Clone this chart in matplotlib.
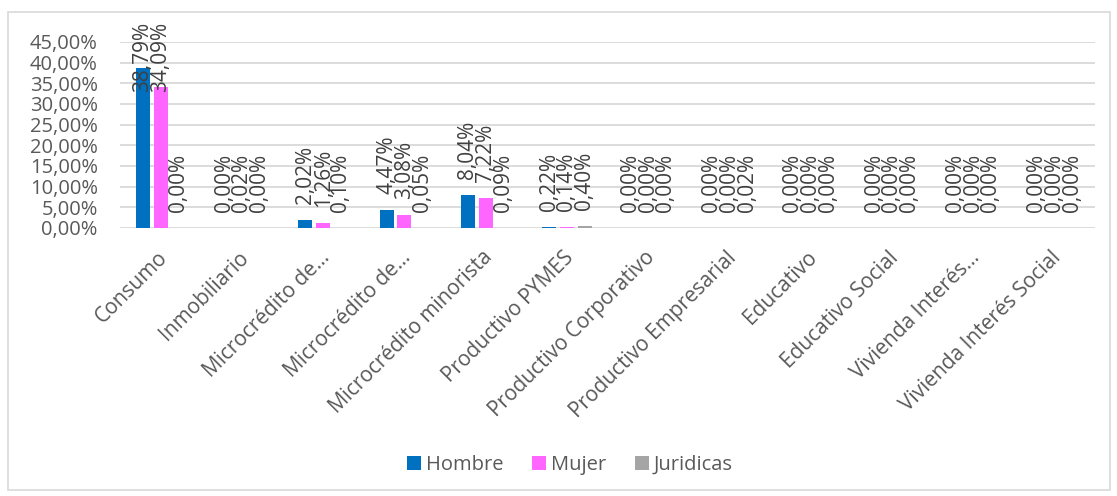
import matplotlib
matplotlib.use("Agg")
import matplotlib.pyplot as plt
from matplotlib.patches import Rectangle
from matplotlib.transforms import ScaledTranslation
import numpy as np

categories = ["Consumo", "Inmobiliario", "Microcrédito de...", "Microcrédito de...",
              "Microcrédito minorista", "Productivo PYMES", "Productivo Corporativo",
              "Productivo Empresarial", "Educativo", "Educativo Social",
              "Vivienda Interés...", "Vivienda Interés Social"]
hombre = [38.79, 0.00, 2.02, 4.47, 8.04, 0.22, 0.00, 0.00, 0.00, 0.00, 0.00, 0.00]
mujer = [34.09, 0.02, 1.26, 3.08, 7.22, 0.14, 0.00, 0.00, 0.00, 0.00, 0.00, 0.00]
juridicas = [0.00, 0.00, 0.10, 0.05, 0.09, 0.40, 0.00, 0.02, 0.00, 0.00, 0.00, 0.00]
series_names = ["Hombre", "Mujer", "Juridicas"]
colors = ["#0070C0", "#FF66FF", "#A5A5A5"]
yticks = [0, 5, 10, 15, 20, 25, 30, 35, 40, 45]

plt.rcParams['font.family'] = ['Open Sans', 'DejaVu Sans']

W, H = 1117, 496
fig = plt.figure(figsize=(W / 100, H / 100), dpi=100)
ax = fig.add_axes([120 / W, 1 - 228 / H, (1095 - 120) / W, (228 - 42) / H])

# chart border
fig.patches.append(Rectangle((8 / W, 1 - 490 / H), (1110 - 8) / W, (490 - 12) / H,
                             transform=fig.transFigure, fill=False,
                             edgecolor="#D9D9D9", linewidth=1.2))

x = np.arange(len(categories))
bw = 0.172
step = 0.218
for i, (vals, name, c) in enumerate(zip([hombre, mujer, juridicas], series_names, colors)):
    xs = x + (i - 1) * step
    ax.bar(xs, vals, width=bw, color=c, label=name, zorder=3)
    for xi, v in zip(xs, vals):
        lab = f"{v:.2f}".replace(".", ",") + "%"
        if v > 25:
            ax.annotate(lab, xy=(xi, 1.0), xycoords=("data", "axes fraction"),
                        xytext=(0, 14.5), textcoords="offset points",
                        rotation=90, ha="center", va="top",
                        fontsize=15, color="#404040", annotation_clip=False)
        else:
            ax.annotate(lab, xy=(xi, v), xytext=(0, 11.5), textcoords="offset points",
                        rotation=90, ha="center", va="bottom",
                        fontsize=15, color="#404040", annotation_clip=False)

ax.set_xlim(-0.5, len(categories) - 0.5)
ax.set_ylim(0, 45)
ax.set_yticks(yticks)
ax.set_yticklabels([f"{t:.2f}".replace(".", ",") + "%" for t in yticks],
                   fontsize=14.5, color="#595959")
ax.set_xticks(x)
ax.set_xticklabels([])
shift = ScaledTranslation(-4 / 100, -19 / 100, fig.dpi_scale_trans)
for xi, cat in zip(x, categories):
    ax.text(xi, 0, cat, transform=ax.get_xaxis_transform() + shift,
            rotation=45, ha="right", va="top", rotation_mode="anchor",
            fontsize=15, color="#595959", clip_on=False)
ax.tick_params(axis="y", length=0, pad=16)
ax.tick_params(axis="x", length=0)
ax.grid(axis="y", color="#D9D9D9", linewidth=1.3, zorder=0)
for s in ax.spines.values():
    s.set_visible(False)

fig.legend(loc="center", bbox_to_anchor=(570 / W, 1 - 465 / H), ncol=3, frameon=False,
           fontsize=14.5, handlelength=0.7, handleheight=0.7, handletextpad=0.25,
           columnspacing=1.4, labelcolor="#595959")

fig.savefig("out.png", dpi=100)
